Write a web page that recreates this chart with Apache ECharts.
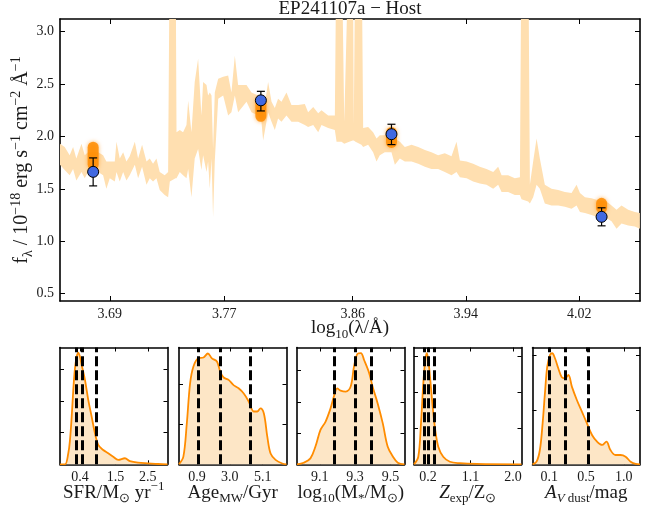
<!DOCTYPE html>
<html>
<head>
<meta charset="utf-8">
<script src="https://cdn.jsdelivr.net/npm/echarts@6/dist/echarts.min.js"></script>
<style>
html, body { margin: 0; padding: 0; background: #fff; }
#chart { width: 660px; height: 509px; }
</style>
</head>
<body>
<div id="chart"></div>
<script>
// spectrum band (log10 wavelength, lower / upper flux in 1e-18 cgs)
const specLogWave = [3.6550, 3.6583, 3.6618, 3.6642, 3.6665, 3.6701, 3.6724, 3.6747, 3.6818, 3.6853, 3.6876, 3.6900, 3.6935, 3.6947, 3.6970, 3.6994, 3.7017, 3.7040, 3.7076, 3.7099, 3.7127, 3.7158, 3.7181, 3.7204, 3.7228, 3.7251, 3.7286, 3.7310, 3.7322, 3.7362, 3.7369, 3.7392, 3.7415, 3.7439, 3.7451, 3.7474, 3.7497, 3.7521, 3.7544, 3.7556, 3.7580, 3.7591, 3.7603, 3.7615, 3.7626, 3.7638, 3.7662, 3.7697, 3.7732, 3.7755, 3.7779, 3.7802, 3.7826, 3.7861, 3.7896, 3.7943, 3.7966, 3.7978, 3.8013, 3.8037, 3.8060, 3.8083, 3.8107, 3.8142, 3.8177, 3.8224, 3.8271, 3.8294, 3.8330, 3.8365, 3.8388, 3.8435, 3.8482, 3.8494, 3.8529, 3.8548, 3.8583, 3.8608, 3.8615, 3.8627, 3.8669, 3.8681, 3.8716, 3.8751, 3.8775, 3.8798, 3.8833, 3.8880, 3.8904, 3.8939, 3.8974, 3.9021, 3.9068, 3.9115, 3.9161, 3.9208, 3.9255, 3.9302, 3.9337, 3.9361, 3.9408, 3.9454, 3.9501, 3.9548, 3.9595, 3.9630, 3.9654, 3.9700, 3.9747, 3.9783, 3.9794, 3.9841, 3.9853, 3.9876, 3.9900, 3.9923, 3.9958, 4.0005, 4.0052, 4.0099, 4.0146, 4.0181, 4.0205, 4.0240, 4.0286, 4.0333, 4.0392, 4.0427, 4.0462, 4.0497, 4.0544, 4.0591, 4.0626];
const specUpper = [1.93, 1.90, 1.82, 1.90, 1.79, 1.93, 1.82, 1.85, 1.85, 1.82, 1.76, 1.76, 1.76, 1.95, 1.79, 1.85, 1.76, 1.81, 1.95, 1.79, 1.92, 1.76, 1.79, 1.74, 1.79, 1.66, 1.63, 1.66, 4.0, 4.0, 2.04, 2.06, 2.04, 2.11, 2.34, 2.04, 2.52, 2.74, 2.20, 2.52, 2.49, 2.39, 2.42, 2.39, 1.88, 2.42, 2.55, 2.57, 2.58, 2.42, 2.77, 2.49, 2.49, 2.49, 2.42, 2.39, 2.39, 2.20, 2.52, 2.33, 2.27, 2.36, 2.33, 2.42, 2.30, 2.30, 2.31, 2.23, 2.28, 2.22, 2.25, 2.20, 2.20, 4.0, 4.0, 2.14, 4.0, 4.0, 2.11, 4.0, 4.0, 2.08, 2.09, 2.04, 1.98, 2.01, 2.01, 2.01, 1.98, 1.95, 1.90, 1.92, 1.90, 1.87, 1.85, 1.82, 1.84, 1.81, 1.95, 1.77, 1.76, 1.74, 1.71, 1.69, 1.66, 1.71, 1.63, 1.63, 1.60, 1.61, 4.0, 4.0, 1.54, 1.76, 1.98, 1.79, 1.54, 1.50, 1.49, 1.47, 1.46, 1.54, 1.46, 1.42, 1.41, 1.39, 1.38, 1.34, 1.30, 1.34, 1.30, 1.28, 1.27];
const specLower = [1.73, 1.68, 1.63, 1.69, 1.58, 1.66, 1.60, 1.66, 1.66, 1.63, 1.50, 1.60, 1.57, 1.66, 1.57, 1.66, 1.58, 1.63, 1.73, 1.60, 1.71, 1.54, 1.60, 1.57, 1.60, 1.49, 1.44, 1.42, 1.57, 1.60, 1.60, 1.66, 1.63, 1.60, 1.69, 1.42, 1.79, 1.88, 1.68, 1.82, 1.66, 1.76, 1.50, 1.79, 1.23, 1.76, 2.36, 2.39, 2.20, 2.23, 2.39, 2.23, 2.27, 2.33, 2.23, 2.20, 2.14, 1.96, 2.23, 2.14, 2.06, 2.17, 2.14, 2.20, 2.14, 2.14, 2.11, 2.09, 2.11, 2.04, 2.11, 2.08, 2.06, 1.95, 1.95, 1.93, 1.95, 1.96, 1.96, 1.95, 1.92, 1.90, 1.92, 1.85, 1.76, 1.82, 1.85, 1.85, 1.73, 1.79, 1.76, 1.76, 1.74, 1.71, 1.69, 1.69, 1.66, 1.63, 1.66, 1.61, 1.60, 1.57, 1.55, 1.54, 1.50, 1.54, 1.47, 1.47, 1.44, 1.44, 1.40, 1.38, 1.36, 1.42, 1.54, 1.50, 1.36, 1.34, 1.34, 1.33, 1.31, 1.34, 1.28, 1.27, 1.25, 1.23, 1.22, 1.19, 1.12, 1.17, 1.15, 1.14, 1.12];

// photometry and model photometry ranges
const photLogWave = [3.6783, 3.7962, 3.8880, 4.0357];
const photFlux = [1.662, 2.344, 2.021, 1.233];
const photErrLow = [1.528, 2.243, 1.922, 1.147];
const photErrHigh = [1.795, 2.430, 2.116, 1.319];
const modelLow = [1.68, 2.14, 1.89, 1.265];
const modelHigh = [1.95, 2.38, 2.09, 1.414];

const specTicksX = [3.69, 3.7704, 3.8607, 3.9403, 4.02];
const specTicksY = [0.5, 1.0, 1.5, 2.0, 2.5, 3.0];

// posteriors
const sfrGrid = [-0.22, -0.063, 0.039, 0.091, 0.144, 0.193, 0.246, 0.298, 0.347, 0.400, 0.452, 0.554, 0.656, 0.761, 0.863, 0.965, 1.120, 1.274, 1.428, 1.583, 1.790, 1.944, 2.200, 2.509, 2.818, 3.108];
const sfrDensity = [0, 0, 0.35, 0.77, 1.50, 2.34, 3.03, 3.39, 3.52, 3.39, 3.13, 2.66, 2.03, 1.50, 0.98, 0.61, 0.45, 0.35, 0.24, 0.14, 0.19, 0.10, 0.05, 0.03, 0.01, 0];
const sfrPct = [0.276, 0.471, 0.885];
const sfrTicks = [0.4, 1.5, 2.5];

const ageGrid = [-0.26, 0.02, 0.24, 0.45, 0.66, 0.98, 1.31, 1.59, 1.85, 2.17, 2.38, 2.60, 2.92, 3.24, 3.56, 3.89, 4.21, 4.53, 4.75, 4.96, 5.18, 5.40, 5.61, 5.93, 6.36, 6.63];
const ageDensity = [0, 0.19, 1.02, 2.02, 2.44, 2.65, 2.67, 2.77, 2.65, 2.57, 2.32, 2.17, 2.11, 1.98, 1.90, 1.77, 1.57, 1.32, 1.32, 1.40, 1.27, 0.69, 0.27, 0.11, 0.02, 0];
const agePct = [0.98, 2.38, 4.32];
const ageTicks = [0.9, 3.0, 5.1];

const massGrid = [8.971, 9.009, 9.047, 9.075, 9.104, 9.133, 9.161, 9.180, 9.199, 9.218, 9.247, 9.275, 9.294, 9.314, 9.333, 9.351, 9.380, 9.399, 9.428, 9.457, 9.485, 9.514, 9.542, 9.580];
const massDensity = [0, 0.05, 0.19, 0.56, 1.10, 1.37, 1.79, 2.17, 2.43, 2.36, 2.33, 2.49, 3.13, 3.54, 3.56, 3.34, 2.92, 2.49, 1.95, 1.31, 0.56, 0.25, 0.05, 0];
const massPct = [9.18, 9.298, 9.395];
const massTicks = [9.1, 9.3, 9.5];

const zGrid = [-0.096, -0.005, 0.052, 0.101, 0.137, 0.173, 0.206, 0.242, 0.299, 0.354, 0.418, 0.523, 0.665, 0.877, 1.230, 2.180];
const zDensity = [0, 0.21, 1.14, 2.25, 2.81, 3.08, 2.90, 2.44, 1.60, 0.95, 0.49, 0.21, 0.07, 0.03, 0.01, 0];
const zPct = [0.13, 0.21, 0.333];
const zTicks = [0.2, 1.1, 2.0];

const avGrid = [-0.102, -0.053, -0.013, 0.020, 0.048, 0.076, 0.109, 0.136, 0.169, 0.209, 0.251, 0.291, 0.331, 0.373, 0.433, 0.494, 0.555, 0.616, 0.677, 0.737, 0.790, 0.838, 0.899, 0.960, 1.021, 1.082, 1.143, 1.195];
const avDensity = [0, 0.048, 0.263, 0.754, 1.307, 1.798, 2.013, 2.044, 1.952, 1.768, 1.602, 1.584, 1.645, 1.430, 1.184, 0.969, 0.754, 0.540, 0.417, 0.356, 0.417, 0.263, 0.171, 0.171, 0.141, 0.048, 0.006, 0];
const avPct = [0.1, 0.291, 0.567];
const avTicks = [0.1, 0.543, 1.0];

const FONT = 'Liberation Serif';
const INK = '#1a1a1a';

function rich(size) {
    const small = Math.round(size * 0.7);
    return {
        sup: { fontFamily: FONT, fontSize: small, lineHeight: Math.round(size * 0.75), verticalAlign: 'top', color: INK },
        sub: { fontFamily: FONT, fontSize: small, lineHeight: Math.round(size * 0.95), verticalAlign: 'bottom', color: INK },
        it: { fontFamily: FONT, fontSize: size, fontStyle: 'italic', color: INK },
        itsub: { fontFamily: FONT, fontSize: small, fontStyle: 'italic', lineHeight: Math.round(size * 0.95), verticalAlign: 'bottom', color: INK }
    };
}

function nameStyle(size) {
    return { fontFamily: FONT, fontSize: size, lineHeight: Math.round(size * 1.3), color: INK, rich: rich(size) };
}

const axisLine = { show: true, onZero: false, lineStyle: { color: '#000', width: 1.6 } };

// one boxed frame: bottom + top x, left + right y
function frame(gi, o) {
    const xs = [{
        gridIndex: gi, type: 'value', position: 'bottom', min: o.xMin, max: o.xMax,
        axisLine: axisLine,
        axisTick: { inside: true, length: o.tickLen, customValues: o.xTicks, lineStyle: { color: '#000', width: 1 } },
        axisLabel: { customValues: o.xTicks, formatter: v => v.toFixed(o.xDigits), fontFamily: FONT, fontSize: 14, color: INK, margin: 6 },
        splitLine: { show: false },
        name: o.xName, nameLocation: 'middle', nameGap: o.xGap, nameMoveOverlap: false,
        nameTextStyle: nameStyle(o.nameSize)
    }, {
        gridIndex: gi, type: 'value', position: 'top', min: o.xMin, max: o.xMax,
        axisLine: axisLine,
        axisTick: { inside: true, length: o.tickLen, customValues: o.xTicks, lineStyle: { color: '#000', width: 1 } },
        axisLabel: { show: false },
        splitLine: { show: false }
    }];
    const ys = [{
        gridIndex: gi, type: 'value', position: 'left', min: o.yMin, max: o.yMax,
        axisLine: axisLine,
        axisTick: { inside: true, length: o.tickLen, customValues: o.yTicks, lineStyle: { color: '#000', width: 1 } },
        axisLabel: o.yLabels
            ? { customValues: o.yTicks, formatter: v => v.toFixed(1), fontFamily: FONT, fontSize: 14, color: INK, margin: 6 }
            : { show: false },
        splitLine: { show: false },
        name: o.yName || '', nameLocation: 'middle', nameGap: o.yGap || 0, nameRotate: 90, nameMoveOverlap: false,
        nameTextStyle: nameStyle(o.yNameSize || o.nameSize)
    }, {
        gridIndex: gi, type: 'value', position: 'right', min: o.yMin, max: o.yMax,
        axisLine: axisLine,
        axisTick: { inside: true, length: o.tickLen, customValues: o.yTicks, lineStyle: { color: '#000', width: 1 } },
        axisLabel: { show: false },
        splitLine: { show: false }
    }];
    return { xs, ys };
}

const grids = [{ left: 60, top: 19, width: 580, height: 282, outerBoundsMode: 'none', containLabel: false }];
const xAxes = [];
const yAxes = [];

const mainFrame = frame(0, {
    xMin: 3.655, xMax: 4.0627, xTicks: specTicksX, xDigits: 2,
    yMin: 0.43, yMax: 3.12, yTicks: specTicksY, yLabels: true,
    tickLen: 5, nameSize: 19, yNameSize: 20,
    xName: 'log{sub|10}(λ/Å)', xGap: 15,
    yName: 'f{sub|λ} / 10{sup|−18} erg s{sup|−1} cm{sup|−2} Å{sup|−1}', yGap: 25
});
xAxes.push(...mainFrame.xs);
yAxes.push(...mainFrame.ys);

const panels = [
    { left: 60, xMin: -0.218, xMax: 3.108, xTicks: sfrTicks, yMax: 3.68, yTicks: [1, 2, 3], g: sfrGrid, d: sfrDensity, p: sfrPct, name: 'SFR/M{sub|⊙} yr{sup|−1}' },
    { left: 179, xMin: -0.26, xMax: 6.63, xTicks: ageTicks, yMax: 2.92, yTicks: [1, 2], g: ageGrid, d: ageDensity, p: agePct, name: 'Age{sub|MW}/Gyr' },
    { left: 297, xMin: 8.971, xMax: 9.58, xTicks: massTicks, yMax: 3.74, yTicks: [1, 2, 3], g: massGrid, d: massDensity, p: massPct, name: 'log{sub|10}(M{sub|*}/M{sub|⊙})' },
    { left: 414, xMin: -0.096, xMax: 2.18, xTicks: zTicks, yMax: 3.24, yTicks: [1, 2, 3], g: zGrid, d: zDensity, p: zPct, name: '{it|Z}{sub|exp}/Z{sub|⊙}' },
    { left: 532.5, xMin: -0.102, xMax: 1.195, xTicks: avTicks, yMax: 2.15, yTicks: [1, 2], g: avGrid, d: avDensity, p: avPct, name: '{it|A}{itsub|V}{sub| dust}/mag' }
];

const series = [];

panels.forEach((pn, i) => {
    const gi = i + 1;
    grids.push({ left: pn.left, top: 347.5, width: 107.5, height: 116.8, outerBoundsMode: 'none', containLabel: false });
    const f = frame(gi, {
        xMin: pn.xMin, xMax: pn.xMax, xTicks: pn.xTicks, xDigits: 1,
        yMin: 0, yMax: pn.yMax, yTicks: pn.yTicks, yLabels: false,
        tickLen: 4, nameSize: 19,
        xName: pn.name, xGap: 16
    });
    xAxes.push(...f.xs);
    yAxes.push(...f.ys);
    series.push({
        type: 'line',
        xAxisIndex: gi * 2,
        yAxisIndex: gi * 2,
        data: pn.g.map((x, k) => [x, pn.d[k]]),
        smooth: 0.35,
        showSymbol: false,
        lineStyle: { color: '#ff8c00', width: 1.8 },
        areaStyle: { color: '#fde6c6', opacity: 1 },
        z: 2,
        markLine: {
            silent: true,
            symbol: ['none', 'none'],
            label: { show: false },
            lineStyle: { color: '#000', type: [10, 4], width: 3 },
            data: pn.p.map(v => ({ xAxis: v }))
        }
    });
});

// spectrum band: one polygon (upper edge forward, lower edge back)
series.push({
    type: 'custom', xAxisIndex: 0, yAxisIndex: 0, z: 1, clip: true,
    data: specLogWave.map((x, i) => [x, specLower[i], specUpper[i]]),
    renderItem: (params, api) => {
        if (params.dataIndex !== 0) return null;
        const pts = [];
        for (let i = 0; i < specLogWave.length; i++) pts.push(api.coord([specLogWave[i], specUpper[i]]));
        for (let i = specLogWave.length - 1; i >= 0; i--) pts.push(api.coord([specLogWave[i], specLower[i]]));
        const cs = params.coordSys;
        return {
            type: 'group',
            clipPath: { type: 'rect', shape: { x: cs.x, y: cs.y, width: cs.width, height: cs.height } },
            children: [{ type: 'polygon', shape: { points: pts }, style: { fill: '#ffdfb0' } }]
        };
    }
});

// model photometry ranges
series.push({
    type: 'custom', xAxisIndex: 0, yAxisIndex: 0, z: 3,
    data: photLogWave.map((x, i) => [x, modelLow[i], modelHigh[i]]),
    renderItem: (params, api) => {
        const top = api.coord([api.value(0), api.value(2)]);
        const bot = api.coord([api.value(0), api.value(1)]);
        const w = 11;
        return {
            type: 'rect',
            shape: { x: top[0] - w / 2, y: top[1], width: w, height: bot[1] - top[1], r: w / 2 },
            style: { fill: 'rgba(255,140,0,0.85)', shadowBlur: 4, shadowColor: 'rgba(255,140,0,0.7)' }
        };
    }
});

// error bars
series.push({
    type: 'custom', xAxisIndex: 0, yAxisIndex: 0, z: 4,
    data: photLogWave.map((x, i) => [x, photErrLow[i], photErrHigh[i]]),
    renderItem: (params, api) => {
        const top = api.coord([api.value(0), api.value(2)]);
        const bot = api.coord([api.value(0), api.value(1)]);
        const c = 4;
        const st = { stroke: '#000', lineWidth: 1.2 };
        return {
            type: 'group',
            children: [
                { type: 'line', shape: { x1: top[0], y1: top[1], x2: bot[0], y2: bot[1] }, style: st },
                { type: 'line', shape: { x1: top[0] - c, y1: top[1], x2: top[0] + c, y2: top[1] }, style: st },
                { type: 'line', shape: { x1: bot[0] - c, y1: bot[1], x2: bot[0] + c, y2: bot[1] }, style: st }
            ]
        };
    }
});

series.push({
    type: 'scatter', xAxisIndex: 0, yAxisIndex: 0, z: 5,
    data: photLogWave.map((x, i) => [x, photFlux[i]]),
    symbolSize: 11,
    itemStyle: { color: '#4169e1', borderColor: '#000', borderWidth: 1, opacity: 1 }
});

const chart = echarts.init(document.getElementById('chart'), null, { renderer: 'canvas' });
chart.setOption({
    animation: false,
    backgroundColor: '#fff',
    grid: grids,
    xAxis: xAxes,
    yAxis: yAxes,
    series: series,
    graphic: [{
        type: 'text', x: 350, y: 9,
        style: { text: 'EP241107a − Host', fontFamily: FONT, fontSize: 19, fill: INK, align: 'center', verticalAlign: 'middle' }
    }]
});
</script>
</body>
</html>
